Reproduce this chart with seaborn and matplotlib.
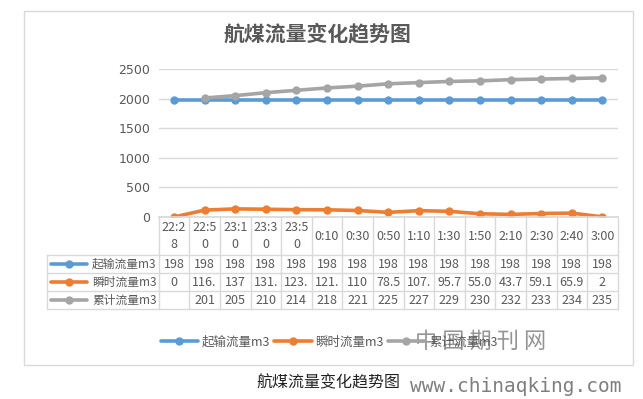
import numpy as np
import pandas as pd
import matplotlib
matplotlib.use("Agg")
import matplotlib.pyplot as plt
import seaborn as sns
from matplotlib.patches import Rectangle

sns.set_theme(style="white")
plt.rcParams['font.family'] = ['Noto Sans CJK SC', 'DejaVu Sans']

# data
times = ['22:28', '22:50', '23:10', '23:30', '23:50', '0:10', '0:30', '0:50',
         '1:10', '1:30', '1:50', '2:10', '2:30', '2:40', '3:00']
start_flow = [1980] * 15
inst_flow = [0, 116.4, 137, 131.2, 123.5, 121.3, 110, 78.5, 107.2, 95.7,
             55.04, 43.7, 59.1, 65.9, 2]
cum_flow = [np.nan, 2010, 2050, 2100, 2140, 2180, 2210, 2250, 2270, 2290,
            2300, 2320, 2330, 2340, 2350]
series_names = ['起输流量m3', '瞬时流量m3', '累计流量m3']
colors = ['#5B9BD5', '#ED7D31', '#A5A5A5']

rows = [start_flow, inst_flow, cum_flow]
df = pd.concat([pd.DataFrame({'pos': np.arange(len(times)), 'value': vals, 'series': name})
                for name, vals in zip(series_names, rows)], ignore_index=True)

W, H = 643, 399
fig = plt.figure(figsize=(W / 100, H / 100), dpi=100)

# background canvas in pixel coords
bg = fig.add_axes([0, 0, 1, 1], zorder=0)
bg.set_xlim(0, W)
bg.set_ylim(H, 0)
bg.axis('off')
bg.add_patch(Rectangle((24, 11), 609, 354, fill=False, ec='#D9D9D9', lw=1))

# plot area
x0, x1, ytop, ybot = 158.7, 617.7, 69, 217
ax = fig.add_axes([x0 / W, 1 - ybot / H, (x1 - x0) / W, (ybot - ytop) / H], zorder=2)
ax.patch.set_alpha(0)
sns.lineplot(data=df, x='pos', y='value', hue='series', palette=colors,
             marker='o', markersize=6, markeredgewidth=0, linewidth=2.6, ax=ax)
handles, labels = ax.get_legend_handles_labels()
ax.get_legend().remove()
ax.set_xlim(-0.5, len(times) - 0.5)
ax.set_ylim(0, 2500)
ax.set_yticks([0, 500, 1000, 1500, 2000, 2500])
ax.yaxis.grid(True, color='#D9D9D9', lw=1)
ax.set_xticks([])
ax.set_xlabel('')
ax.set_ylabel('')
for s in ['top', 'right', 'left']:
    ax.spines[s].set_visible(False)
ax.spines['bottom'].set_color('#D9D9D9')
ax.tick_params(axis='y', length=0, pad=6, labelsize=9, labelcolor='#595959')
for lab in ax.get_yticklabels():
    lab.set_fontfamily(['DejaVu Sans'])

bg.text(317, 34, '航煤流量变化趋势图', ha='center', va='center', fontsize=15,
        fontweight='bold', color='#595959')

# data table under the plot
colw = (x1 - x0) / len(times)
grid_c = '#D9D9D9'
row_y = [217, 255, 273, 291, 309]
tab_left = 47
for r in row_y[1:]:
    bg.plot([tab_left, x1], [r, r], color=grid_c, lw=1)
for i in range(len(times) + 1):
    bg.plot([x0 + i * colw] * 2, [217, 309], color=grid_c, lw=1)
bg.plot([tab_left, tab_left], [255, 309], color=grid_c, lw=1)


def cell(v):
    if np.isnan(v):
        return ''
    if v >= 1000:
        return str(int(v))[:3]
    if v == int(v):
        return str(int(v))
    return f"{v:.1f}"[:4]


def wrap(t):
    return t[:4] + '\n' + t[4:] if len(t) > 4 else t


for i, t in enumerate(times):
    cx = x0 + (i + 0.5) * colw
    bg.text(cx, 236, wrap(t), ha='center', va='center', fontsize=9,
            color='#595959', linespacing=1.35)
    for k, vals in enumerate(rows):
        bg.text(cx, (row_y[k + 1] + row_y[k + 2]) / 2, cell(float(vals[i])),
                ha='center', va='center', fontsize=9, color='#595959')

for k, name in enumerate(series_names):
    cy = (row_y[k + 1] + row_y[k + 2]) / 2
    bg.plot([51, 87], [cy] * 2, color=colors[k], lw=2.6, solid_capstyle='round')
    bg.plot([69], [cy], 'o', color=colors[k], markersize=6, mew=0)
    bg.text(92, cy, name, ha='left', va='center', fontsize=8.5, color='#595959')

fig.legend(handles, labels, loc='center', bbox_to_anchor=(329 / W, 1 - 342 / H),
           ncol=3, frameon=False, fontsize=9, handlelength=3, columnspacing=0.3,
           handletextpad=0.3, labelcolor='#595959')

# caption and watermark
bg.text(328, 383, '航煤流量变化趋势图', ha='center', va='center', fontsize=11.5, color='#222222')
bg.text(481, 341, '中 国 期 刊 网', ha='center', va='center', fontsize=16,
        color='#707070', alpha=0.75, zorder=5)
bg.text(410, 386, 'www.chinaqking.com', ha='left', va='center', fontsize=14,
        color='#7F7F7F', family=['DejaVu Sans Mono'])

fig.savefig('out.png', dpi=100)
